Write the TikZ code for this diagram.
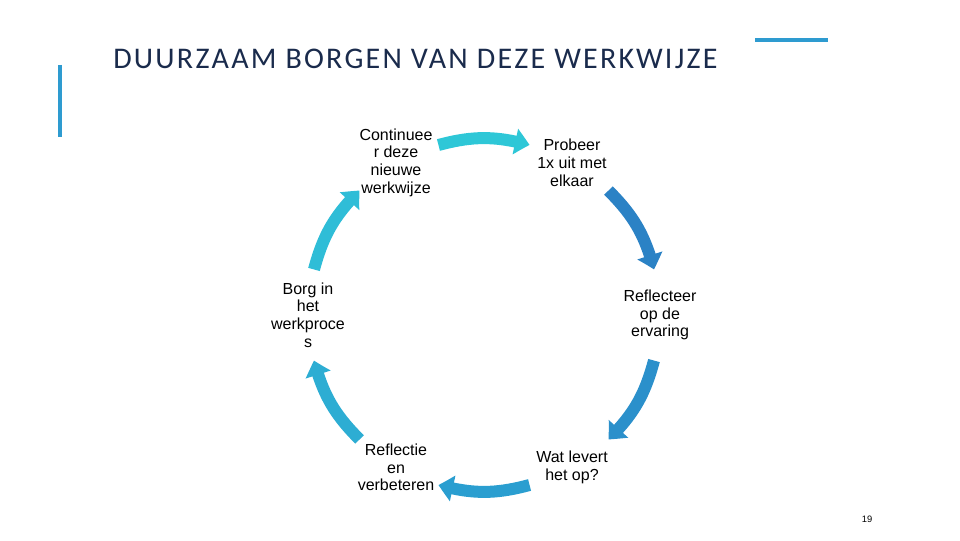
\documentclass[tikz,border=0pt]{standalone}
\usepackage{fontspec}
\setmainfont{Liberation Sans}
\newfontfamily\titlefont[LetterSpace=7.5]{Carlito}
\usetikzlibrary{arrows.meta,bending,calc}
\definecolor{titlenavy}{HTML}{1A2B4C}
\definecolor{barblue}{HTML}{2E9BD0}
\definecolor{cycone}{HTML}{2EC7D7}
\definecolor{cyctwo}{HTML}{2B82C5}
\definecolor{cycthree}{HTML}{2B90CB}
\definecolor{cycfour}{HTML}{2A9ED0}
\definecolor{cycfive}{HTML}{2DADD3}
\definecolor{cycsix}{HTML}{2FBDD7}
\tikzset{
  cyclearrow/.style={line width=9pt,-{Triangle[length=11pt,width=19pt,bend]}},
  steptext/.style={align=center,inner sep=0pt,font=\fontsize{12}{13.3}\selectfont}
}
\begin{document}
\begin{tikzpicture}[x=0.75pt,y=0.75pt]
\useasboundingbox (0,0) rectangle (960,540);

\draw[barblue,line width=2.4pt] (60,475) -- (60,403);
\draw[barblue,line width=2.4pt] (755,500) -- (828,500);
\node[anchor=base west,inner sep=0pt,text=titlenavy,font=\titlefont\fontsize{22.5}{24}\selectfont] (title) at (113,471.7) {DUURZAAM BORGEN VAN DEZE WERKWIJZE};

\coordinate (c) at (484,225);
\node[steptext] (cont) at (396,377.4) {Continuee\\r deze\\nieuwe\\werkwijze};
\node[steptext] (prob) at (572,377.4) {Probeer\\1x uit met\\elkaar};
\node[steptext] (refl) at (660,225) {Reflecteer\\op de\\ervaring};
\node[steptext] (wat) at (572,72.6) {Wat levert\\het op?};
\node[steptext] (refv) at (396,72.6) {Reflectie\\en\\verbeteren};
\node[steptext] (borg) at (308,225) {Borg in\\het\\werkproce\\s};

\coordinate (a1s) at ($(c)+(105:176)$);
\coordinate (a1e) at ($(c)+(75:176)$);
\coordinate (a2s) at ($(c)+(45:176)$);
\coordinate (a2e) at ($(c)+(15:176)$);
\coordinate (a3s) at ($(c)+(-15:176)$);
\coordinate (a3e) at ($(c)+(-45:176)$);
\coordinate (a4s) at ($(c)+(-75:176)$);
\coordinate (a4e) at ($(c)+(-105:176)$);
\coordinate (a5s) at ($(c)+(-135:176)$);
\coordinate (a5e) at ($(c)+(-165:176)$);
\coordinate (a6s) at ($(c)+(165:176)$);
\coordinate (a6e) at ($(c)+(135:176)$);
\draw[cyclearrow,cycone] (a1s) to[bend left=15] (a1e);
\draw[cyclearrow,cyctwo] (a2s) to[bend left=15] (a2e);
\draw[cyclearrow,cycthree] (a3s) to[bend left=15] (a3e);
\draw[cyclearrow,cycfour] (a4s) to[bend left=15] (a4e);
\draw[cyclearrow,cycfive] (a5s) to[bend left=15] (a5e);
\draw[cyclearrow,cycsix] (a6s) to[bend left=15] (a6e);

\node[inner sep=0pt,font=\fontsize{7}{8}\selectfont] (pagenum) at (867,21) {19};
\end{tikzpicture}
\end{document}
